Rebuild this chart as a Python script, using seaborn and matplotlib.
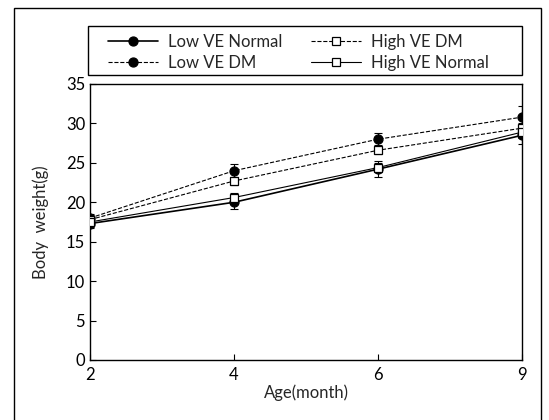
#!/usr/bin/python3

import matplotlib
matplotlib.use('Agg')

import matplotlib.pyplot as plt
import numpy as np
import pandas as pd
import seaborn as sns
from matplotlib.patches import Rectangle

# ------------------------------------------------------------
#     Data
# ------------------------------------------------------------

ages = ["2", "4", "6", "9"]
series_names = ["Low VE Normal", "Low VE DM", "High VE DM", "High VE Normal"]

low_ve_normal     = [17.3, 20.0, 24.2, 28.5]
low_ve_normal_err = [0.6, 0.9, 1.0, 1.1]
low_ve_dm         = [18.0, 24.0, 28.0, 30.8]
low_ve_dm_err     = [0.5, 0.9, 0.8, 1.4]
high_ve_dm        = [17.8, 22.7, 26.6, 29.4]
high_ve_dm_err    = [0.4, 0.5, 0.5, 0.6]
high_ve_normal    = [17.5, 20.6, 24.4, 28.9]
high_ve_normal_err = [0.4, 0.6, 0.6, 0.7]

y_ticks = [0, 5, 10, 15, 20, 25, 30, 35]

# ------------------------------------------------------------
#     Table
# ------------------------------------------------------------

values = [low_ve_normal, low_ve_dm, high_ve_dm, high_ve_normal]
errors = [low_ve_normal_err, low_ve_dm_err, high_ve_dm_err, high_ve_normal_err]
rows = []
for name, vals, errs in zip(series_names, values, errors):
    for i, (a, v, e) in enumerate(zip(ages, vals, errs)):
        rows.append({"series": name, "age": a, "pos": i, "weight": v, "err": e})
df = pd.DataFrame(rows)

styles = {
    "Low VE Normal":  dict(marker='o', mfc='black', ls='-',  lw=1.2),
    "Low VE DM":      dict(marker='o', mfc='black', ls='--', lw=0.8),
    "High VE DM":     dict(marker='s', mfc='white', ls='--', lw=0.8),
    "High VE Normal": dict(marker='s', mfc='white', ls='-',  lw=0.8),
}

# ------------------------------------------------------------
#     Plot
# ------------------------------------------------------------

sns.set_style("ticks")
plt.rcParams['font.family'] = ['Lato', 'DejaVu Sans']

fig = plt.figure(figsize=(5.49, 4.2), dpi=100)
ax = fig.add_axes([0.164, 0.143, 0.787, 0.657])

for name in series_names:
    sub = df[df["series"] == name]
    st = styles[name]
    ms = 6.5 if st['marker'] == 'o' else 6
    ax.errorbar(sub["pos"], sub["weight"], yerr=sub["err"], fmt='none',
                ecolor='black', elinewidth=0.8, capsize=3, capthick=0.8, zorder=2)
    sns.lineplot(data=sub, x="pos", y="weight", ax=ax, color='black',
                 marker=st['marker'], markersize=ms, markerfacecolor=st['mfc'],
                 markeredgecolor='black', markeredgewidth=0.9,
                 linestyle=st['ls'], linewidth=st['lw'], label=name, zorder=3)

ax.set_xlim(0, len(ages) - 1)
ax.set_ylim(0, 35)
ax.set_xticks(range(len(ages)))
ax.set_xticklabels(ages)
ax.set_yticks(y_ticks)
ax.tick_params(direction='in', length=4, width=0.8, labelsize=12, colors='black')
ax.tick_params(axis='x', pad=5)
for sp in ax.spines.values():
    sp.set_visible(True)
    sp.set_linewidth(1.0)
    sp.set_color('black')
ax.set_xlabel('Age(month)', fontsize=12, labelpad=1)
ax.set_ylabel('Body  weight(g)', fontsize=12, labelpad=12)

# legend: frameless entries inside a separately drawn box
ax.get_legend().remove()
handles, labels = ax.get_legend_handles_labels()
order = ["Low VE Normal", "Low VE DM", "High VE DM", "High VE Normal"]
hmap = dict(zip(labels, handles))
leg = fig.legend([hmap[n] for n in order], order, ncol=2,
                 loc='center left', bbox_to_anchor=(0.197, 0.875),
                 frameon=False, fontsize=12,
                 handlelength=3.0, handletextpad=0.6, borderpad=0,
                 labelspacing=0.3, columnspacing=1.7, borderaxespad=0)
fig.patches.append(Rectangle((88 / 549, 1 - 75 / 420), 434 / 549, 49 / 420,
                             transform=fig.transFigure, fill=False,
                             edgecolor='black', linewidth=1.0))

# outer frame round the whole figure
fig.patches.append(Rectangle((0.0255, -0.01), 0.9595, 0.991, transform=fig.transFigure,
                             fill=False, edgecolor='black', linewidth=1.0))

plt.savefig("out.png", dpi=100)
